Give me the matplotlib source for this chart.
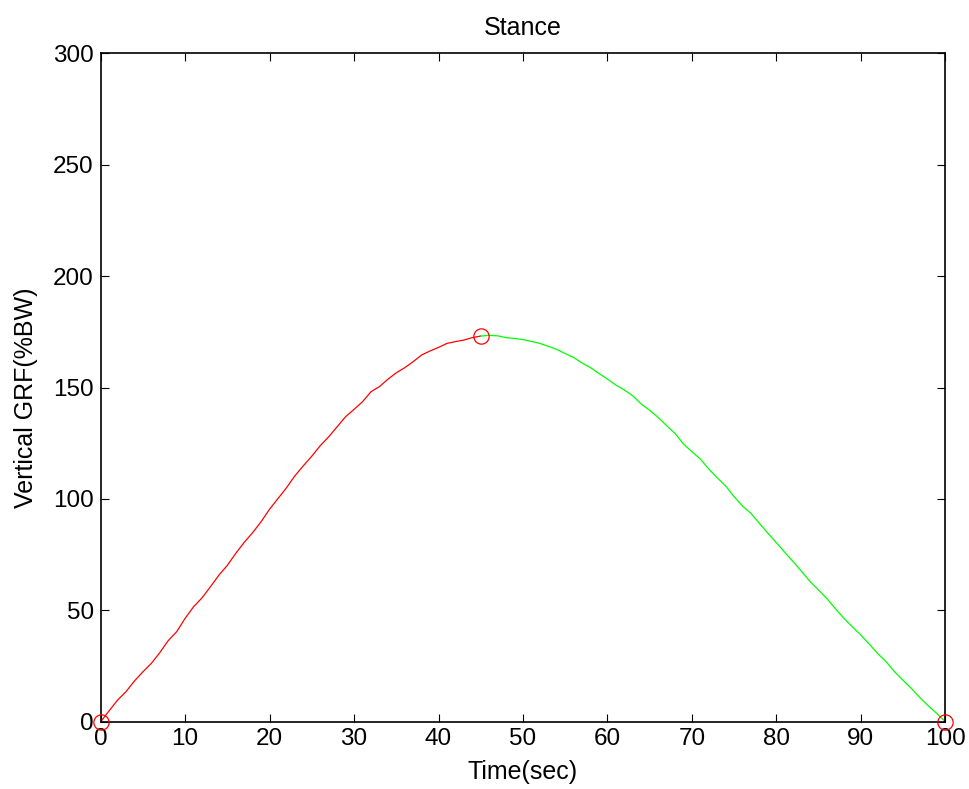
import numpy as np
import matplotlib.pyplot as plt

# stance phase, percent of stance (sampled every 1 %)
t_rise = list(range(0, 46))
grf_rise = [0.0, 4.9, 9.7, 13.5, 18.3, 22.4, 26.2, 31.0, 36.4, 40.4,
            46.4, 51.6, 55.6, 60.6, 65.8, 70.2, 75.6, 80.5, 84.9, 89.8,
            95.4, 100.2, 105.0, 110.4, 114.9, 119.2, 123.9, 127.9, 132.4, 136.9,
            140.2, 143.6, 148.1, 150.4, 153.7, 156.6, 158.9, 161.6, 164.6, 166.4,
            168.0, 169.8, 170.6, 171.3, 172.4, 173.1]

t_fall = list(range(45, 101))
grf_fall = [173.1, 173.4, 173.2, 172.4, 172.0, 171.5, 170.7, 169.8, 168.5, 167.1,
            165.2, 163.5, 161.0, 158.9, 156.3, 153.8, 151.1, 148.9, 146.3, 142.6,
            139.8, 136.6, 132.9, 129.4, 124.7, 121.2, 117.9, 113.4, 109.5, 105.8,
            101.0, 96.8, 93.5, 89.0, 84.6, 80.4, 76.0, 71.8, 67.4, 62.9,
            59.1, 55.2, 50.7, 46.4, 42.6, 38.9, 34.8, 30.6, 26.9, 22.4,
            18.6, 14.9, 10.8, 7.1, 3.7, 0.0]

# heel strike, peak and toe off
t_events = [0, 45, 100]
grf_events = [0.0, 173.1, 0.0]

plt.rcParams['font.family'] = ['Liberation Sans', 'DejaVu Sans']

fig = plt.figure(figsize=(9.7, 7.89), dpi=100)
ax = fig.add_axes([0.1038, 0.0853, 0.8707, 0.8471])

ax.plot(t_rise, grf_rise, color=(1, 0, 0), linewidth=0.9)
ax.plot(t_fall, grf_fall, color=(0, 1, 0), linewidth=0.9)
ax.plot(t_events, grf_events, 'o', markerfacecolor='none', markeredgecolor=(1, 0, 0),
        markersize=11, markeredgewidth=0.9, linestyle='none', clip_on=False, zorder=5)

ax.set_xlim(0, 100)
ax.set_ylim(0, 300)
ax.set_xticks(np.arange(0, 101, 10))
ax.set_yticks(np.arange(0, 301, 50))
ax.tick_params(direction='in', length=6, width=0.8, top=True, right=True,
               labelsize=17.5)
ax.tick_params(axis='x', pad=4.5)
ax.tick_params(axis='y', pad=5)
for s in ax.spines.values():
    s.set_linewidth(1.2)

ax.set_title('Stance', fontsize=18, pad=13)
ax.set_xlabel('Time(sec)', fontsize=18)
ax.set_ylabel('Vertical GRF(%BW)', fontsize=18)
ax.xaxis.set_label_coords(0.5, -0.058)
ax.yaxis.set_label_coords(-0.074, 0.485)

fig.savefig('out.png', dpi=100)
